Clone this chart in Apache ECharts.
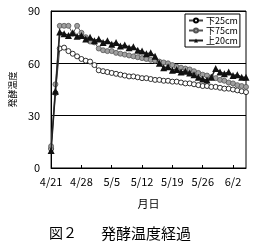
<!DOCTYPE html>
<html>
<head>
<meta charset="utf-8">
<script src="https://cdn.jsdelivr.net/npm/echarts@6/dist/echarts.min.js"></script>
<style>
  html, body { margin: 0; padding: 0; background: #fff; }
  #main { width: 272px; height: 249px; }
</style>
</head>
<body>
<div id="main"></div>
<script>
// days 4/21 .. 6/5
const days = [];
const monthLen = { 4: 30, 5: 31, 6: 30 };
let m = 4, d = 21;
for (let i = 0; i < 46; i++) {
  days.push(m + "/" + d);
  d++;
  if (d > monthLen[m]) { m++; d = 1; }
}

const seriesNames = ["下25cm", "下75cm", "上20cm"];

const low25 = [11, 43, 68.5, 69, 67, 65.5, 64, 62.5, 61.5, 61, 59, 56, 55.5, 55, 54.5,
  54, 53.5, 53, 52.5, 52.5, 52, 51.5, 51.5, 51, 50.5, 50.5, 50, 50, 49.5, 49.5, 49,
  48.5, 48.5, 48, 47.5, 47, 47, 46.5, 46.5, 46, 45.5, 45.5, 45, 44.5, 44, 43.5];

const low75 = [12.5, 48, 81.5, 81.5, 81.5, 77, 81.5, 77.5, 75, 72.5, 72, 68.5, 67.5, 67,
  67, 66, 65.5, 65, 64.5, 64, 63.5, 63, 62.5, 62, 61.5, 61, 60.5, 60, 59, 58, 57.5,
  57, 56.5, 55.5, 54.5, 53.5, 53, 52, 51.5, 50.5, 50, 49, 48.5, 47.5, 47, 46.5];

const up20 = [10, 44, 78, 77, 76, 77.5, 75.5, 76, 74, 75, 73, 74, 72, 73, 71, 72, 70,
  70.5, 69, 69.5, 67.5, 67, 65.5, 66, 64, 60, 57.5, 58, 56, 56.5, 55, 55.5, 54.5,
  53.5, 52, 51, 50.5, 52, 57, 55, 54, 55, 53, 53.5, 52, 52];

const font = "'Noto Sans CJK JP', sans-serif";

var chartDom = document.getElementById("main");
var myChart = echarts.init(chartDom);
var option;

option = {
  animation: false,
  backgroundColor: "#fff",
  title: [
    { text: "図２", left: 44, top: 221, textStyle: { fontSize: 14, fontWeight: "normal", color: "#000", fontFamily: font } },
    { text: "発酵温度経過", left: 96, top: 221, textStyle: { fontSize: 15, fontWeight: "normal", color: "#000", fontFamily: font } },
  ],
  legend: {
    data: seriesNames,
    orient: "vertical",
    left: 185,
    top: 14,
    padding: [2, 2, 2, 3],
    itemGap: 1,
    itemWidth: 14,
    itemHeight: 5,
    borderColor: "#000",
    borderWidth: 1,
    backgroundColor: "#fff",
    textStyle: { fontSize: 9, color: "#000", fontFamily: font, padding: [0, 0, 0, -2] },
  },
  grid: {
    left: 42,
    top: 11,
    right: 26,
    bottom: 81,
    show: true,
    borderColor: "#000",
    borderWidth: 1,
  },
  xAxis: {
    type: "category",
    data: days,
    boundaryGap: false,
    name: "月日",
    nameLocation: "middle",
    nameGap: 30,
    nameTextStyle: { fontSize: 11, color: "#000", fontFamily: font },
    axisLine: { lineStyle: { color: "#000", width: 1 } },
    axisTick: { inside: true, length: 3, interval: 6, lineStyle: { color: "#000" } },
    axisLabel: { interval: 6, fontSize: 11, color: "#000", fontFamily: font, margin: 8 },
    splitLine: { show: false },
  },
  yAxis: {
    type: "value",
    min: 0,
    max: 90,
    interval: 30,
    name: "発酵温度",
    nameLocation: "middle",
    nameRotate: 90,
    nameGap: 27,
    nameTextStyle: { fontSize: 9, color: "#000", fontFamily: font },
    axisLine: { show: true, lineStyle: { color: "#000", width: 1 } },
    axisTick: { show: false },
    axisLabel: { fontSize: 11, color: "#000", fontFamily: font, margin: 11 },
    splitLine: { show: true, lineStyle: { color: "#000", width: 1 } },
  },
  series: [
    {
      name: seriesNames[0],
      type: "line",
      data: low25,
      symbol: "circle",
      symbolSize: 5,
      showAllSymbol: true,
      itemStyle: { color: "#fff", borderColor: "#000", borderWidth: 0.8 },
      lineStyle: { color: "#444", width: 1 },
      z: 2,
    },
    {
      name: seriesNames[1],
      type: "line",
      data: low75,
      symbol: "circle",
      symbolSize: 5,
      showAllSymbol: true,
      itemStyle: { color: "#a0a0a0", borderColor: "#555", borderWidth: 0.8 },
      lineStyle: { color: "#555", width: 1 },
      z: 3,
    },
    {
      name: seriesNames[2],
      type: "line",
      data: up20,
      symbol: "triangle",
      symbolSize: 7,
      showAllSymbol: true,
      itemStyle: { color: "#111", borderColor: "#111", borderWidth: 0 },
      lineStyle: { color: "#222", width: 1.5 },
      z: 4,
    },
  ],
};

option && myChart.setOption(option);
</script>
</body>
</html>
